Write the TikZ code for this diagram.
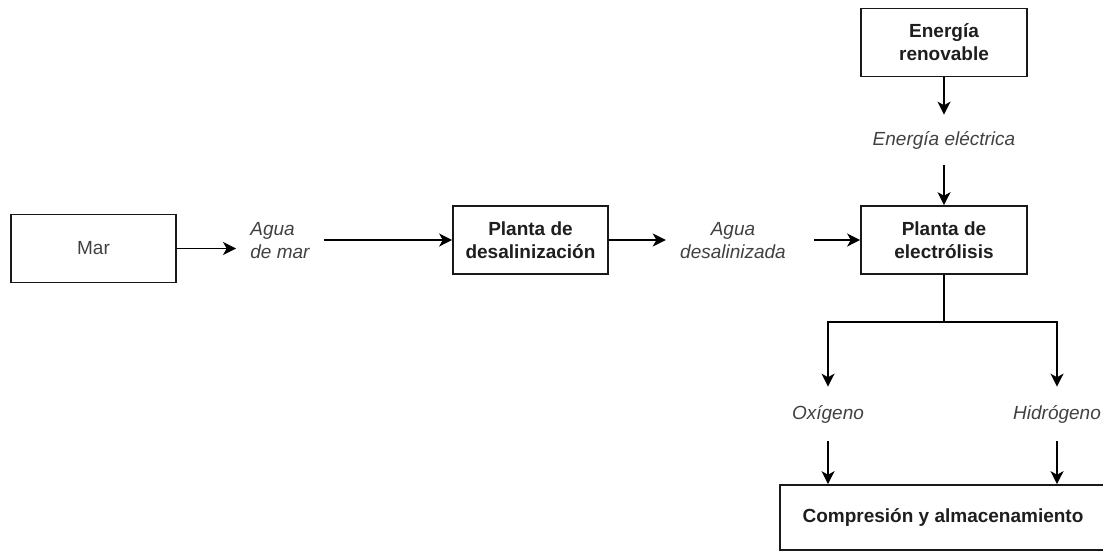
\documentclass[tikz,border=0pt]{standalone}
\usepackage{fontspec}
\setmainfont{Liberation Sans}
\usepackage{tikz}
\usetikzlibrary{arrows.meta}
\definecolor{boxtext}{RGB}{30,30,30}
\definecolor{flowtext}{RGB}{65,65,65}

\begin{document}
\begin{tikzpicture}[x=.5pt,y=-.5pt,
    every node/.style={font=\fontsize{9.5}{11.5}\selectfont},
    box/.style={draw=black!90,line width=.85pt,minimum height=34pt,align=center,font=\fontsize{9.5}{11.5}\selectfont\bfseries,text=boxtext},
    flow/.style={text=flowtext,align=center,font=\fontsize{9.5}{11.5}\selectfont\itshape,inner xsep=7pt},
    arr/.style={-{Stealth[length=6.5pt,width=6.5pt,inset=1.8pt]},line width=.85pt}]
        \useasboundingbox (0,0) rectangle (1103,552);
        \node[box,minimum width=82.5pt,font=\fontsize{9.5}{11.5}\selectfont,text=flowtext] (mar) at (93.5,248.5) {Mar};
        \node[flow,align=left] (aguamar) at (280,241) {Agua\\de mar};
        \node[box,minimum width=77.5pt] (desal) at (530.5,240) {Planta de\\desalinización};
        \node[flow] (aguadesal) at (733,241) {Agua\\desalinizada};
        \node[box,minimum width=83pt] (elec) at (944,240) {Planta de\\electrólisis};
        \node[box,minimum width=83pt] (renov) at (944,42.5) {Energía\\renovable};
        \node[flow,inner ysep=8pt] (eelec) at (944,140) {Energía eléctrica};
        \coordinate (split) at (944,322);
        \node[flow,inner ysep=9pt] (oxi) at (828,414) {Oxígeno};
        \node[flow,inner ysep=9pt] (hidro) at (1057,414) {Hidrógeno};
        \node[box,minimum width=163pt,minimum height=32.5pt] (store) at (943,517.5) {Compresión y almacenamiento};
        \draw[arr] (mar.east) -- (mar.east -| aguamar.west);
        \draw[arr] (aguamar.east |- desal.west) -- (desal.west);
        \draw[arr] (desal.east) -- (desal.east -| aguadesal.west);
        \draw[arr,shorten <=7pt] (aguadesal.east |- elec.west) -- (elec.west);
        \draw[arr] (renov) -- (eelec);
        \draw[arr] (eelec) -- (elec);
        \draw[line width=.85pt] (elec) -- (split);
        \draw[arr] (split) -| (oxi.north);
        \draw[arr] (split) -| (hidro.north);
        \draw[arr] (oxi) -- (oxi |- store.north);
        \draw[arr] (hidro) -- (hidro |- store.north);
      \end{tikzpicture}
\end{document}
